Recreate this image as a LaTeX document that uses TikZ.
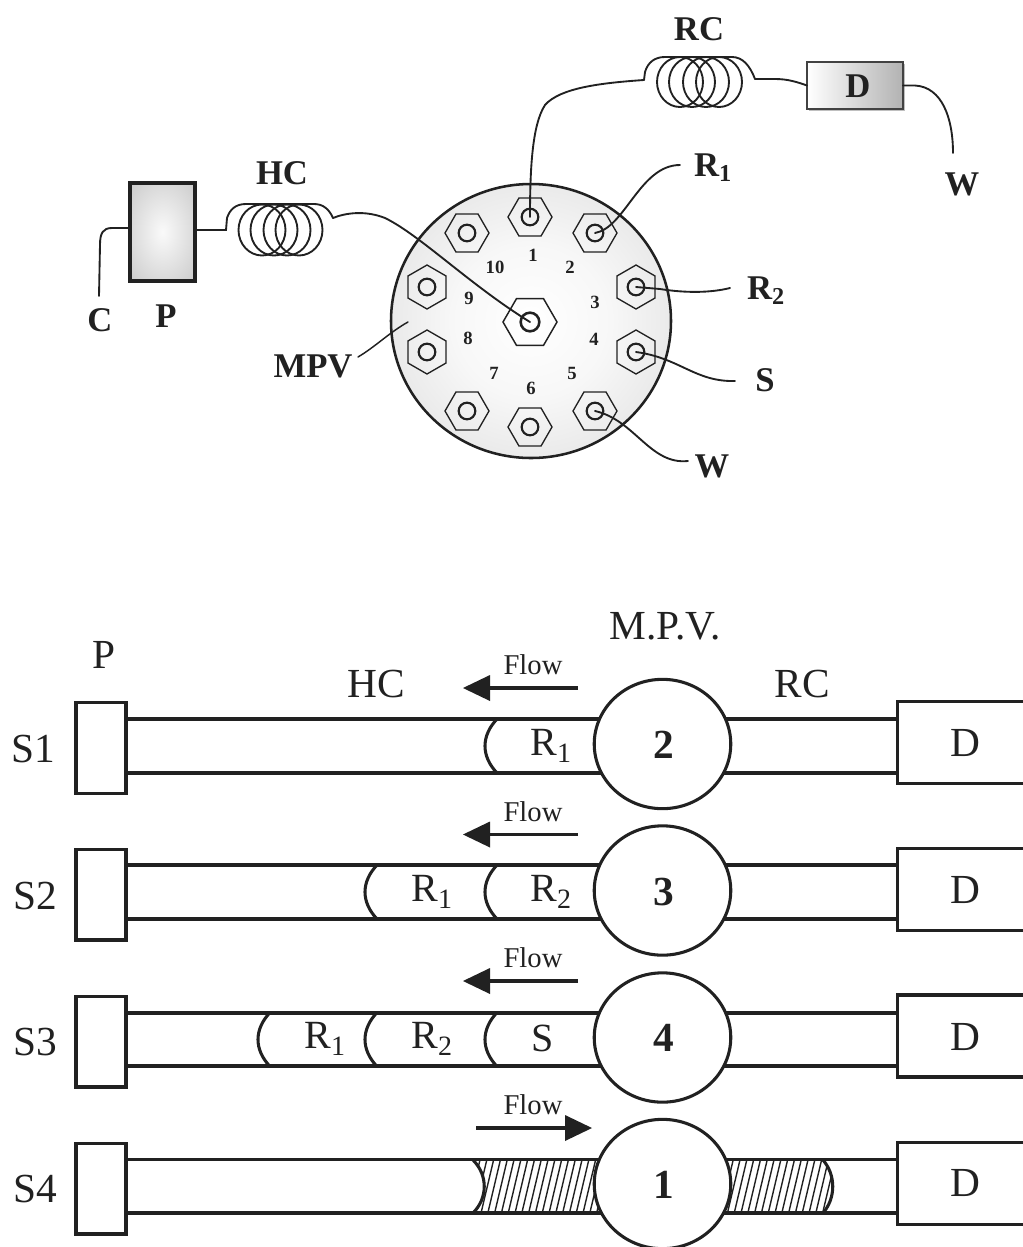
\documentclass[tikz,border=0pt]{standalone}
\usepackage{fontspec}
\setmainfont{Liberation Serif}
\usetikzlibrary{shapes.geometric,shadows}
\definecolor{ink}{gray}{0.13}
\pgfdeclareradialshading{discglow}{\pgfpoint{0bp}{0bp}}{color(0bp)=(white); color(14bp)=(white!97!black); color(50bp)=(white!80!black); color(100bp)=(white!80!black)}
\pgfdeclareradialshading{pumpglow}{\pgfpoint{0bp}{0bp}}{color(0bp)=(white!98!black); color(50bp)=(white!72!black); color(100bp)=(white!72!black)}
\tikzset{
  wire/.style={draw=ink,line width=1.4pt,line cap=round},
  coilloop/.style={draw=ink,line width=1.4pt},
  hexa/.style={regular polygon,regular polygon sides=6,draw=ink,line width=1pt,minimum size=33pt,inner sep=0pt,outer sep=0pt},
  hexflat/.style={hexa},
  hexpoint/.style={hexa,shape border rotate=30},
  port/.style={circle,draw=ink,line width=1.6pt,minimum size=12.5pt,inner sep=0pt,outer sep=0pt},
  portno/.style={font=\fontsize{14}{14}\selectfont\bfseries,text=ink,inner sep=0pt},
  boldlab/.style={font=\fontsize{26}{26}\selectfont\bfseries,text=ink,inner sep=0pt},
  lightlab/.style={font=\fontsize{31}{31}\selectfont,text=ink,inner sep=0pt},
  zonelab/.style={font=\fontsize{30}{30}\selectfont,text=ink,inner sep=0pt},
  flowlab/.style={font=\fontsize{21.5}{21.5}\selectfont,text=ink,inner sep=0pt},
  valveno/.style={font=\fontsize{31}{31}\selectfont\bfseries,text=ink,inner sep=0pt},
  tube/.style={draw=ink,line width=2.5pt},
  rowbox/.style={draw=ink,line width=2.5pt,fill=white,inner sep=0pt,outer sep=0pt},
  valve/.style={ellipse,draw=ink,line width=2.3pt,fill=white,minimum width=102.4pt,minimum height=97pt,inner sep=0pt,outer sep=0pt},
  band/.style={draw=ink,line width=2.3pt,line cap=round},
  flowshaft/.style={draw=ink,line width=2.6pt},
  flowhead/.style={fill=ink,draw=none},
}
\begin{document}
\begin{tikzpicture}[x=.75pt,y=-.75pt]
\useasboundingbox (0,0) rectangle (1023,1247);
\clip (0,0) rectangle (1023,1247);
% ---------- upper scheme
\node[ellipse,draw=ink,line width=1.9pt,minimum width=210pt,minimum height=205.5pt,inner sep=0pt,outer sep=0pt,shading=discglow] (mpv) at (531,321) {};
\foreach \n/\x/\y/\s in {1/530/217/hexflat,2/595/233/hexflat,3/636/287/hexpoint,4/636/352/hexpoint,5/595/411/hexflat,6/530/427/hexflat,7/467/411/hexflat,8/427/352/hexpoint,9/427/287/hexpoint,10/467/233/hexflat}{
  \node[\s] (hex\n) at (\x,\y) {};
  \node[port] (port\n) at (\x,\y) {};
}
\node[hexa,minimum size=40.5pt,line width=1.1pt] (hexc) at (530,322) {};
\node[port,minimum size=14pt,line width=1.9pt] (portc) at (530,322) {};
\foreach \n/\x/\y/\t in {a/533/255/1,b/570/267/2,c/595/302/3,d/594/339/4,e/572/373/5,f/531/388/6,g/494/373/7,h/468/338/8,i/469/298/9,j/495/267/10}{
  \node[portno] (no\n) at (\x,\y) {\t};
}
\node[rectangle,draw=ink,line width=3pt,minimum width=49pt,minimum height=73.5pt,inner sep=0pt,outer sep=0pt,shading=pumpglow] (pump) at (162.5,232) {};
\node[rectangle,draw=ink!85,line width=1.2pt,minimum width=72pt,minimum height=35pt,inner sep=0pt,outer sep=0pt,drop shadow={shadow xshift=1.5pt,shadow yshift=-1.5pt,fill=black,opacity=.25},left color=white,right color=white!70!black] (det) at (855,85.5) {};
\node[boldlab] (detl) at (858,86) {D};
% coils
\coordinate (hcin) at (226,230);
\coordinate (hcout) at (333,218);
\coordinate (pumpw) at (130,228);
\foreach \x in {262,274,287,299}{\draw[coilloop] (\x,230) ellipse [x radius=23.5,y radius=25.5];}
\draw[wire] (pump.east |- hcin) -- (hcin) -- (227,218) .. controls (230,209) and (236,204) .. (246,204) -- (314,204) .. controls (323,204) and (329,209) .. (hcout);
\draw[wire] (hcout) .. controls (345,213) and (365,210) .. (385,218) .. controls (420,235) and (470,285) .. (portc.center);
\coordinate (rcin) at (644,80);
\coordinate (rcout) at (755,79);
\foreach \x in {680,692,706,719}{\draw[coilloop] (\x,82) ellipse [x radius=23,y radius=25];}
\draw[wire] (rcin) -- (645,72) .. controls (648,62) and (655,57) .. (665,57) -- (732,57) .. controls (743,57) and (750,66) .. (rcout);
\draw[wire] (rcin) .. controls (600,83) and (560,88) .. (545,105) .. controls (532,125) and (530,170) .. (port1.center);
\draw[wire] (rcout) -- (775,79) .. controls (788,79) and (797,82) .. (det.west);
\coordinate (wtop) at (953,153);
\draw[wire] (det.east) -- (915,85.5) .. controls (942,87) and (953,118) .. (wtop);
\coordinate (cend) at (99,296);
\draw[wire] (pumpw) -- (112,228) .. controls (103,228) and (100,233) .. (100,245) -- (cend);
\coordinate (r1end) at (680,165);
\coordinate (r2end) at (730,288);
\coordinate (send) at (735,381);
\coordinate (wend) at (688,461);
\coordinate (mpvin) at (408,322);
\coordinate (mpvout) at (358,357);
\draw[wire] (port2.center) .. controls (625,228) and (640,165) .. (r1end);
\draw[wire] (port3.center) -- (660,289) .. controls (685,293) and (710,293) .. (r2end);
\draw[wire] (port4.center) .. controls (680,358) and (695,382) .. (send);
\draw[wire] (port5.center) .. controls (635,420) and (650,465) .. (wend);
\draw[wire,line width=1.1pt] (mpvout) .. controls (375,347) and (390,332) .. (mpvin);
\node[boldlab] (lhc) at (282,173) {HC};
\node[boldlab] (lrc) at (699,29) {RC};
\node[boldlab] (lc) at (100,320) {C};
\node[boldlab] (lp) at (166,316) {P};
\node[boldlab] (lmpv) at (313,366) {MPV};
\node[boldlab] (lr1) at (713,168) {R\textsubscript{1}};
\node[boldlab] (lr2) at (766,291) {R\textsubscript{2}};
\node[boldlab] (ls) at (765,380) {S};
\node[boldlab] (lw) at (712,466) {W};
\node[boldlab] (lw2) at (962,184) {W};
% ---------- lower scheme
\foreach \r/\pc/\dc/\up/\lo/\sx/\sy/\dy in {1/748/742.5/719/773/33/749/743,2/894.5/889.5/865/919/35/896/890,3/1041.5/1036/1013/1066/35/1042/1037,4/1188.5/1183.5/1159.5/1213/35/1189/1183}{
  \node[rowbox,minimum width=37.5pt,minimum height=68pt] (pb\r) at (101,\pc) {};
  \node[rowbox,minimum width=105pt,minimum height=61.5pt] (db\r) at (967.5,\dc) {};
  \node[lightlab] (sl\r) at (\sx,\sy) {S\r};
  \node[lightlab] (dl\r) at (965,\dy) {D};
  \draw[tube] (pb\r.east |- 0,\up) -- (db\r.west |- 0,\up);
  \draw[tube] (pb\r.east |- 0,\lo) -- (db\r.west |- 0,\lo);
}
% hatching of the last row
\begin{scope}
  \clip (473,1160) .. controls (488,1175) and (488,1198) .. (473,1213) -- (600,1213) -- (600,1160) -- cycle;
  \foreach \x in {440,446.8,...,620}{\draw[ink,line width=1.05pt] (\x,1214) -- (\x+13,1159);}
\end{scope}
\begin{scope}
  \clip (720,1160) -- (823,1160) .. controls (836,1175) and (836,1198) .. (823,1213) -- (720,1213) -- cycle;
  \foreach \x in {700,706.8,...,840}{\draw[ink,line width=1.05pt] (\x,1214) -- (\x+13,1159);}
\end{scope}
\coordinate (ba) at (473,1160); \coordinate (bb) at (473,1213);
\coordinate (bc) at (823,1160); \coordinate (bd) at (823,1213);
\draw[band] (ba) .. controls (488,1175) and (488,1198) .. (bb);
\draw[band] (bc) .. controls (836,1175) and (836,1198) .. (bd);
% fronts
\foreach \x/\c in {497/746,497/892,377/892,497/1039.5,377/1039.5,270/1039.5}{
  \draw[band] (\x,\c-27) .. controls (\x-16,\c-10) and (\x-16,\c+10) .. (\x,\c+27);
}
\foreach \r/\c/\t/\ty in {1/744/2/745,2/890.5/3/892,3/1037.5/4/1038,4/1184/1/1185}{
  \node[valve] (v\r) at (662.5,\c) {};
  \node[valveno] (vn\r) at (664,\ty) {\t};
}
% flow arrows
\foreach \r/\y in {1/688,2/834.5,3/981}{
  \coordinate (fa\r) at (578,\y);
  \coordinate (fb\r) at (488,\y);
  \draw[flowshaft] (fa\r) -- (fb\r);
  \fill[flowhead] (463,\y) -- (490,\y-13) -- (490,\y+13) -- cycle;
  \node[flowlab] (fl\r) at (533,\y-23) {Flow};
}
\coordinate (fa4) at (476,1128);
\coordinate (fb4) at (568,1128);
\draw[flowshaft] (fa4) -- (fb4);
\fill[flowhead] (592,1128) -- (565,1115) -- (565,1141) -- cycle;
\node[flowlab] (fl4) at (533,1105) {Flow};
\node[lightlab] (lp2) at (104,655) {P};
\node[lightlab] (lmpv2) at (665,626) {M.P.V.};
\node[lightlab] (lhc2) at (376,684) {HC};
\node[lightlab] (lrc2) at (802,684) {RC};
\node[zonelab] (z1) at (551,746) {R\textsubscript{1}};
\node[zonelab] (z2) at (432,892) {R\textsubscript{1}};
\node[zonelab] (z3) at (551,892) {R\textsubscript{2}};
\node[zonelab] (z4) at (325,1039) {R\textsubscript{1}};
\node[zonelab] (z5) at (432,1039) {R\textsubscript{2}};
\node[zonelab] (z6) at (543,1038) {S};
\end{tikzpicture}
\end{document}
